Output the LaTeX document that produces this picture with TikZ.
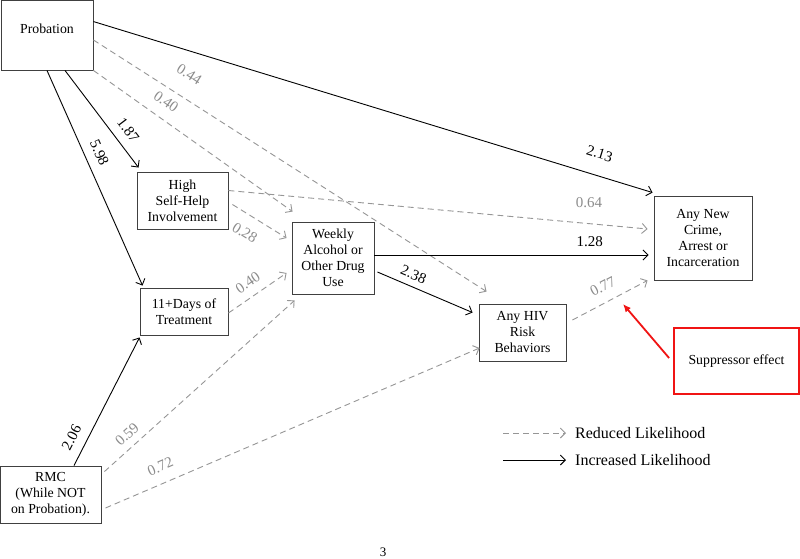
\documentclass[tikz,border=0pt]{standalone}
\usepackage{fontspec}
\setmainfont{Liberation Serif}
\usetikzlibrary{arrows.meta}
\definecolor{dgray}{RGB}{150,150,150}
\definecolor{lgray}{RGB}{140,140,140}
\definecolor{boxgray}{RGB}{64,64,64}
\definecolor{sred}{RGB}{240,20,20}
\begin{document}
\begin{tikzpicture}[x=1pt,y=-1pt,
  box/.style={draw=boxgray, line width=0.9pt, rectangle, inner sep=0pt, align=center, font=\fontsize{13.8}{16}\selectfont},
  incr/.style={draw=black, line width=0.9pt, -{Straight Barb[length=5pt,width=10pt]}},
  redu/.style={draw=dgray, line width=0.9pt, dash pattern=on 6pt off 4pt, -{Straight Barb[length=5pt,width=10pt]}},
  glab/.style={text=lgray, inner sep=0pt, font=\fontsize{15}{15}\selectfont},
  blab/.style={text=black, inner sep=0pt, font=\fontsize{15}{15}\selectfont},
  legtext/.style={anchor=west, inner sep=0pt, font=\fontsize{16}{16}\selectfont},
]
\useasboundingbox (0,0) rectangle (800,558);
\fill[white] (0,0) rectangle (800,558);

% nodes
\node[box, minimum width=92pt, minimum height=70pt, text depth=12pt] (prob) at (47,35) {Probation};
\node[box, minimum width=91pt, minimum height=57pt] (hsh) at (182.5,200.5) {High\\Self-Help\\Involvement};
\node[box, minimum width=82pt, minimum height=72pt] (weekly) at (333,258) {Weekly\\Alcohol or\\Other Drug\\Use};
\node[box, minimum width=88pt, minimum height=47pt] (days) at (184,311.5) {11+Days of\\Treatment};
\node[box, minimum width=101pt, minimum height=57pt] (rmc) at (50.5,494.5) {RMC\\(While NOT\\on Probation).};
\node[box, minimum width=87pt, minimum height=57pt] (hiv) at (522.5,332.5) {Any HIV\\Risk\\Behaviors};
\node[box, minimum width=98pt, minimum height=84pt] (crime) at (703,238) {Any New\\Crime,\\Arrest or\\Incarceration};
\node[box, draw=sred, line width=1.8pt, minimum width=125pt, minimum height=66pt] (supp) at (736.5,361) {Suppressor effect};

% connectors
\draw[incr] ([shift={(0,22)}]prob.north east) -- node[blab,sloped,pos=0.894,above=16pt]{2.13} ([shift={(-1,-3)}]crime.north west);
\draw[redu] ([shift={(0,5)}]prob.east) -- node[glab,sloped,pos=0.213,above=17pt]{0.44} ([shift={(8,-12)}]hiv.north west);
\draw[redu] (prob.south east) -- node[glab,sloped,pos=0.317,above=11pt]{0.40} ([shift={(1,-10)}]weekly.north west);
\draw[incr] ([shift={(18,0)}]prob.south) -- node[blab,sloped,pos=0.70,above=9pt]{1.87} ([shift={(2,-4)}]hsh.north west);
\draw[incr] (prob.south) -- node[blab,sloped,pos=0.41,above=9pt]{5.98} ([shift={(3,-2)}]days.north west);
\draw[redu] ([shift={(0,-10)}]hsh.east) -- node[glab,pos=0.86,above=15.5pt]{0.64} ([shift={(-6,-9)}]crime.west);
\draw[redu] ([shift={(4,4)}]hsh.east) -- node[glab,sloped,pos=0.4,below=12pt]{0.28} ([shift={(-5,-20)}]weekly.west);
\draw[redu] ([shift={(0,1.5)}]days.east) -- node[glab,sloped,pos=0.47,above=8.5pt]{0.40} ([shift={(-5,15)}]weekly.west);
\draw[incr] ([shift={(0,-3)}]weekly.east) -- node[blab,pos=0.785,above=8pt]{1.28} ([shift={(-5,17)}]crime.west);
\draw[incr] ([shift={(3,14)}]weekly.east) -- node[blab,sloped,pos=0.33,above=6.5pt]{2.38} ([shift={(-6,9)}]hiv.north west);
\draw[incr] ([shift={(23.5,0)}]rmc.north) -- node[blab,sloped,pos=0.167,above=9.5pt]{2.06} ([shift={(0,2)}]days.south west);
\draw[redu] ([shift={(3,6)}]rmc.north east) -- node[glab,sloped,pos=0.163,above=7pt]{0.59} ([shift={(3,6)}]weekly.south west);
\draw[redu] ([shift={(4,13.5)}]rmc.east) -- node[glab,sloped,pos=0.164,above=11pt]{0.72} ([shift={(1,15.5)}]hiv.west);
\draw[redu] ([shift={(6,-12.5)}]hiv.east) -- node[glab,sloped,pos=0.5,above=10pt]{0.77} ([shift={(-6,0)}]crime.south west);

% suppressor arrow
\coordinate (supptip) at (623,304);
\draw[sred, line width=1.8pt, -{Latex[length=8pt,width=7pt]}] ([shift={(-4,-3)}]supp.west) -- (supptip);

% legend
\coordinate (lr1) at (503,433);
\coordinate (lr2) at (566,433);
\coordinate (li1) at (503,460);
\coordinate (li2) at (566,460);
\draw[redu] (lr1) -- (lr2);
\draw[incr] (li1) -- (li2);
\node[legtext] (lrt) at (575,433) {Reduced Likelihood};
\node[legtext] (lit) at (575,460) {Increased Likelihood};

% page number
\node[inner sep=0pt, font=\fontsize{13}{13}\selectfont] (pg) at (383,552) {3};
\end{tikzpicture}
\end{document}
